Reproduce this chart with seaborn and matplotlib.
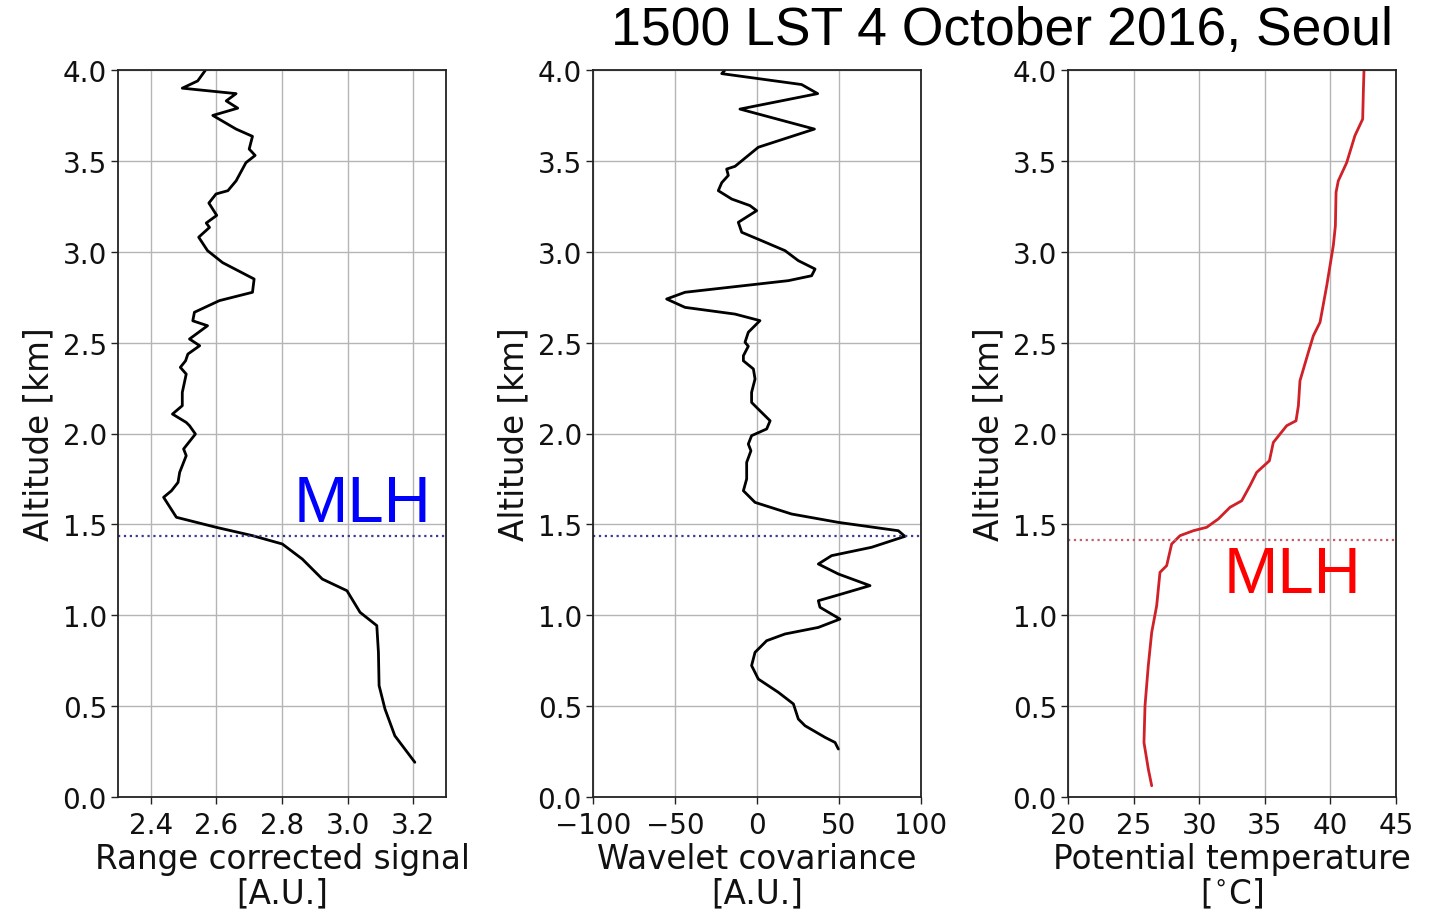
import numpy as np
import pandas as pd
import matplotlib
matplotlib.use("Agg")
import matplotlib.pyplot as plt
import seaborn as sns

# Range corrected lidar signal profile
rcs_alt = [4.00, 3.94, 3.90, 3.87, 3.83, 3.79, 3.75, 3.675, 3.635, 3.565, 3.53, 3.49,
           3.39, 3.336, 3.318, 3.268, 3.20, 3.158, 3.134, 3.08, 3.006, 2.94, 2.85,
           2.777, 2.731, 2.667, 2.62, 2.593, 2.52, 2.483, 2.437, 2.40, 2.364, 2.327,
           2.226, 2.153, 2.107, 2.061, 2.043, 1.997, 1.915, 1.878, 1.786, 1.731,
           1.685, 1.649, 1.539, 1.484, 1.438, 1.392, 1.309, 1.199, 1.135, 1.016,
           0.943, 0.796, 0.613, 0.484, 0.337, 0.191]
rcs_val = [2.567, 2.543, 2.496, 2.66, 2.63, 2.665, 2.589, 2.66, 2.71, 2.70, 2.718, 2.69,
           2.66, 2.635, 2.599, 2.577, 2.601, 2.569, 2.579, 2.546, 2.573, 2.619, 2.715,
           2.71, 2.609, 2.533, 2.528, 2.573, 2.518, 2.549, 2.513, 2.506, 2.49, 2.508,
           2.496, 2.496, 2.466, 2.508, 2.518, 2.536, 2.50, 2.508, 2.488, 2.483,
           2.463, 2.439, 2.478, 2.599, 2.71, 2.801, 2.862, 2.923, 2.998, 3.038,
           3.089, 3.094, 3.096, 3.114, 3.144, 3.205]

# Wavelet covariance transform profile
wct_alt = [4.00, 3.98, 3.92, 3.87, 3.785, 3.675, 3.575, 3.47, 3.455, 3.42, 3.38, 3.336,
           3.29, 3.254, 3.226, 3.162, 3.107, 3.061, 3.006, 2.951, 2.905, 2.868, 2.841,
           2.777, 2.74, 2.694, 2.657, 2.621, 2.557, 2.502, 2.48, 2.428, 2.40, 2.355,
           2.30, 2.226, 2.171, 2.125, 2.07, 2.025, 1.988, 1.942, 1.905, 1.841, 1.75,
           1.685, 1.621, 1.557, 1.511, 1.465, 1.434, 1.374, 1.328, 1.282, 1.227,
           1.163, 1.117, 1.08, 1.044, 0.979, 0.933, 0.897, 0.86, 0.796, 0.723, 0.649,
           0.576, 0.512, 0.429, 0.392, 0.328, 0.30, 0.264]
wct_val = [-19.5, -21.5, 27.2, 37.0, -10.4, 35.0, 0.8, -13.4, -18.5, -17.5, -21.5, -23.6,
           -15.4, -4.3, -0.2, -11.4, -9.3, 2.8, 17.1, 25.2, 35.4, 33.3, 19.1,
           -43.9, -55.1, -43.9, -13.4, 1.8, -5.3, -7.3, -5.3, -8.3, -8.3, -2.2,
           -1.2, -3.3, -3.3, 1.8, 8.0, 5.9, -3.3, -5.3, -3.7, -6.3, -6.3,
           -8.3, -1.2, 21.1, 49.6, 86.2, 90.2, 69.9, 45.5, 37.4, 49.6,
           68.9, 51.6, 37.4, 38.4, 50.6, 37.4, 17.1, 5.9, -1.2, -3.3, 0.8,
           13.0, 22.2, 25.2, 29.3, 41.5, 47.6, 49.6]

# Radiosonde potential temperature profile
pt_alt = [4.00, 3.877, 3.73, 3.639, 3.49, 3.39, 3.327, 3.143, 3.033, 2.813, 2.612,
          2.538, 2.447, 2.29, 2.153, 2.07, 2.043, 1.951, 1.85, 1.786, 1.713, 1.63,
          1.594, 1.53, 1.484, 1.465, 1.438, 1.392, 1.273, 1.236, 1.053, 0.906,
          0.723, 0.503, 0.30, 0.154, 0.062]
pt_val = [42.56, 42.51, 42.46, 41.87, 41.24, 40.6, 40.43, 40.38, 40.22, 39.72, 39.21,
          38.7, 38.32, 37.68, 37.56, 37.38, 36.67, 35.65, 35.35, 34.38, 33.87, 33.24,
          32.35, 31.46, 30.57, 29.55, 28.54, 27.9, 27.52, 27.01, 26.76, 26.38,
          26.12, 25.87, 25.79, 26.12, 26.38]

# Mixed-layer heights [km]
mlh_lidar = 1.434
mlh_sonde = 1.414

x_labels = ["Range corrected signal\n[A.U.]",
            "Wavelet covariance\n[A.U.]",
            "Potential temperature\n[$^{\\circ}$C]"]
y_label = "Altitude [km]"
title = "1500 LST 4 October 2016, Seoul"

sns.set_style("ticks")
plt.rcParams["font.family"] = ["DejaVu Sans"]

fig = plt.figure(figsize=(14.4, 9.12), dpi=100)
lefts = [118 / 1440, 593 / 1440, 1068 / 1440]
axes = [fig.add_axes([l, 114 / 912, 328 / 1440, 727 / 912]) for l in lefts]

profiles = [
    (rcs_val, rcs_alt, "black", (2.3, 3.3), [2.4, 2.6, 2.8, 3.0, 3.2], "{:.1f}"),
    (wct_val, wct_alt, "black", (-100, 100), [-100, -50, 0, 50, 100], None),
    (pt_val, pt_alt, "#d02028", (20, 45), [20, 25, 30, 35, 40, 45], None),
]

for ax, (xv, yv, col, xlim, xt, fmt), xl in zip(axes, profiles, x_labels):
    df = pd.DataFrame({"x": xv, "y": yv})
    sns.lineplot(data=df, x="x", y="y", sort=False, estimator=None,
                 color=col, lw=2.0, ax=ax)
    ax.set_xlim(*xlim)
    ax.set_ylim(0, 4)
    ax.set_xticks(xt)
    if fmt:
        ax.set_xticklabels([fmt.format(t) for t in xt])
    ax.set_yticks(np.arange(0, 4.01, 0.5))
    ax.set_yticklabels([f"{t:.1f}" for t in np.arange(0, 4.01, 0.5)])
    ax.grid(True, color="#b5b5b5", lw=1.0)
    ax.set_axisbelow(True)
    for s in ax.spines.values():
        s.set_color("#222222")
        s.set_linewidth(1.3)
    ax.tick_params(axis="both", labelsize=20, length=5, width=1.0,
                   color="#222222", labelcolor="#111111", pad=3)
    ax.tick_params(axis="x", pad=5)
    ax.set_xlabel(xl, fontsize=23.5, color="#111111", labelpad=2, linespacing=1.05)
    ax.set_ylabel(y_label, fontsize=23.5, color="#111111", labelpad=5)

# MLH markers
axes[0].axhline(mlh_lidar, color="#3b3b8f", ls=":", lw=1.6)
axes[1].axhline(mlh_lidar, color="#3b3b8f", ls=":", lw=1.6)
axes[2].axhline(mlh_sonde, color="#c0606a", ls=":", lw=1.6)

axes[0].text(3.045, 1.61, "MLH", color="blue", fontsize=47,
             family="Liberation Sans", ha="center", va="center")
axes[2].text(37.1, 1.22, "MLH", color="red", fontsize=47,
             family="Liberation Sans", ha="center", va="center")

fig.text(0.696, 0.966, title, fontsize=38.5, family="Liberation Sans",
         ha="center", va="center", color="black")

fig.savefig("out.png", dpi=100, facecolor="white")
